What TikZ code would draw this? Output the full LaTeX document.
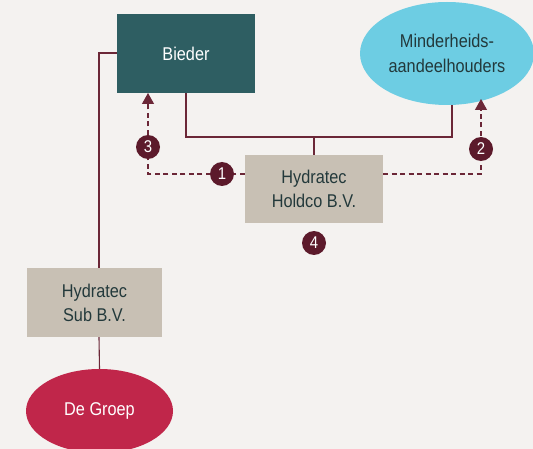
\documentclass[tikz,border=0pt]{standalone}
\usepackage{fontspec}
\setmainfont{Liberation Sans}[FakeStretch=0.88]
\usetikzlibrary{shapes.geometric,arrows.meta}
\definecolor{bg}{HTML}{F4F2F0}
\definecolor{teal}{HTML}{2E5E62}
\definecolor{sky}{HTML}{6DCDE3}
\definecolor{sand}{HTML}{C8C0B4}
\definecolor{rose}{HTML}{C0264A}
\definecolor{wine}{HTML}{6B2737}
\definecolor{dot}{HTML}{5C1A2B}
\definecolor{ink}{HTML}{23393B}
\begin{document}
\begin{tikzpicture}[x=1pt,y=-1pt,
  boxsty/.style={rectangle,inner sep=0pt,align=center,font=\fontsize{18.5}{24}\selectfont},
  link/.style={draw=wine,line width=1.1pt},
  dlink/.style={draw=wine,line width=1.2pt,dash pattern=on 5pt off 3.5pt},
  tip/.style={-{Triangle[width=12pt,length=11pt]}},
  num/.style={circle,fill=dot,text=white,minimum size=24pt,inner sep=0pt,font=\fontsize{17}{17}\selectfont}]
\fill[bg] (0,0) rectangle (533,449);
\useasboundingbox (0,0) rectangle (533,449);
\node[boxsty,fill=teal,text=white,minimum width=138pt,minimum height=79pt] (bieder) at (186,53.5) {Bieder};
\node[ellipse,inner sep=0pt,fill=sky,text=ink,minimum width=174pt,minimum height=103pt,align=center,font=\fontsize{18.5}{25}\selectfont] (minder) at (447,53.5) {Minderheids-\\aandeelhouders};
\node[boxsty,fill=sand,text=ink,minimum width=138pt,minimum height=68pt] (holdco) at (314,189) {Hydratec\\Holdco B.V.};
\node[boxsty,fill=sand,text=ink,minimum width=135pt,minimum height=69pt] (sub) at (94.5,302.5) {Hydratec\\Sub B.V.};
\node[ellipse,inner sep=0pt,fill=rose,text=white,minimum width=147pt,minimum height=84pt,font=\fontsize{18.5}{18.5}\selectfont] (groep) at (99.5,411) {De Groep};
\coordinate (j) at (314,137);
\coordinate (lc) at (99,53);
\coordinate (dl) at (148,174);
\coordinate (dr) at (481,174);
% solid links
\draw[link] (bieder.south) |- (j) -| (452,105);
\draw[link] (holdco.north) -- (j);
\draw[link] (bieder.west |- lc) -- (lc) -- (lc |- sub.north);
\draw[link] (sub.south -| lc) -- (groep.north);
% dashed links
\draw[dlink,tip] (holdco.west |- dl) -- (dl) -- (148,93);
\draw[dlink,tip] (holdco.east |- dr) -- (dr) -- (481,99);
\node[num] (n1) at (222,174) {1};
\node[num] (n3) at (148,147) {3};
\node[num] (n2) at (481,149) {2};
\node[num] (n4) at (314,243) {4};
\end{tikzpicture}
\end{document}
